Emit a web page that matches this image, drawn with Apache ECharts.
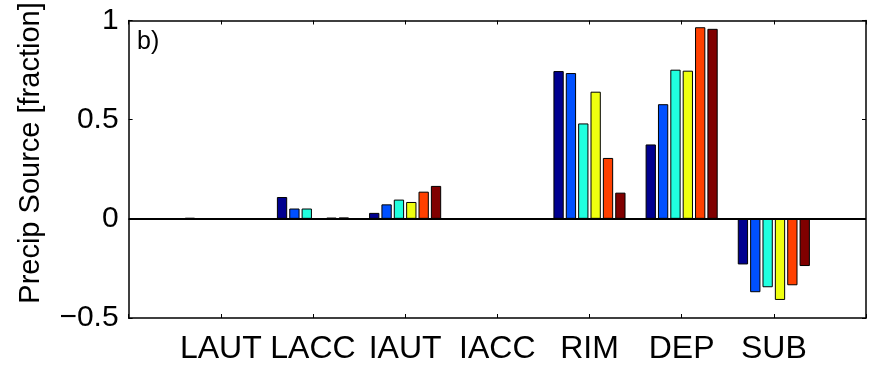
<!DOCTYPE html>
<html>
<head>
<meta charset="utf-8">
<script src="https://cdn.jsdelivr.net/npm/echarts@6/dist/echarts.min.js"></script>
<style>
  html, body { margin: 0; padding: 0; background: #fff; }
  #chart { width: 869px; height: 365px; }
</style>
</head>
<body>
<div id="chart"></div>
<script>
// Process categories, padded with an empty slot at each end so the axis runs 0..8
const categories = ['', 'LAUT', 'LACC', 'IAUT', 'IACC', 'RIM', 'DEP', 'SUB', ''];

// Precipitation source fractions, one array per run
const run1 = [null, 0.005, 0.110, 0.030, 0.000, 0.745, 0.375, -0.230, null];
const run2 = [null, 0.002, 0.052, 0.073, 0.000, 0.735, 0.578, -0.370, null];
const run3 = [null, 0.001, 0.052, 0.097, 0.000, 0.481, 0.752, -0.345, null];
const run4 = [null, 0.001, 0.000, 0.085, 0.000, 0.641, 0.747, -0.409, null];
const run5 = [null, 0.001, 0.006, 0.137, 0.002, 0.307, 0.966, -0.335, null];
const run6 = [null, 0.001, 0.007, 0.166, 0.002, 0.132, 0.958, -0.238, null];

const runColors = ['#00008f', '#0050ff', '#20ffdf', '#efff10', '#ff4000', '#800000'];
const yTicks = [-0.5, 0, 0.5, 1];
const yTitle = 'Precip Source [fraction]';
const panelTag = 'b)';

const runs = [run1, run2, run3, run4, run5, run6];
const font = 'Liberation Sans, Arial, Helvetica, sans-serif';

const series = runs.map((vals, i) => ({
  type: 'bar',
  data: vals,
  barWidth: 10.3,
  barGap: '20%',
  itemStyle: { color: runColors[i], borderColor: '#000', borderWidth: 1 },
  z: 2
}));
// Thick zero reference line across the plot
series[0].markLine = {
  silent: true,
  symbol: 'none',
  label: { show: false },
  lineStyle: { color: '#000', width: 2, type: 'solid' },
  data: [{ yAxis: 0 }],
  z: 5
};

const chart = echarts.init(document.getElementById('chart'), null, { renderer: 'canvas' });
chart.setOption({
  animation: false,
  backgroundColor: '#fff',
  grid: { left: 128.6, right: 1.5, top: 20.5, bottom: 46, containLabel: false },
  xAxis: [
    {
      type: 'category',
      data: categories,
      boundaryGap: false,
      position: 'bottom',
      axisLine: { onZero: false, lineStyle: { color: '#000', width: 1.5 } },
      axisTick: { inside: true, length: 4, lineStyle: { color: '#000', width: 1 } },
      axisLabel: { color: '#000', fontSize: 32, fontFamily: font, margin: 15, interval: 0 },
      splitLine: { show: false }
    },
    {
      type: 'category',
      data: categories,
      boundaryGap: false,
      position: 'top',
      axisLine: { onZero: false, lineStyle: { color: '#000', width: 1.5 } },
      axisTick: { inside: true, length: 4, lineStyle: { color: '#000', width: 1 } },
      axisLabel: { show: false },
      splitLine: { show: false }
    }
  ],
  yAxis: [
    {
      type: 'value',
      min: yTicks[0],
      max: yTicks[yTicks.length - 1],
      interval: 0.5,
      position: 'left',
      axisLine: { show: true, lineStyle: { color: '#000', width: 1.5 } },
      axisTick: { show: true, inside: true, length: 4, lineStyle: { color: '#000', width: 1 } },
      axisLabel: {
        color: '#000', fontSize: 30, fontFamily: font, margin: 10,
        formatter: v => (v < 0 ? '\u2212' + Math.abs(v) : String(v))
      },
      splitLine: { show: false }
    },
    {
      type: 'value',
      min: yTicks[0],
      max: yTicks[yTicks.length - 1],
      interval: 0.5,
      position: 'right',
      axisLine: { show: true, lineStyle: { color: '#000', width: 1.5 } },
      axisTick: { show: true, inside: true, length: 4, lineStyle: { color: '#000', width: 1 } },
      axisLabel: { show: false },
      splitLine: { show: false }
    }
  ],
  graphic: [
    {
      type: 'text',
      x: 31,
      y: 153,
      rotation: Math.PI / 2,
      style: {
        text: yTitle, fill: '#000', font: '29px ' + font,
        align: 'center', verticalAlign: 'middle'
      }
    },
    {
      type: 'text',
      left: 137,
      top: 30,
      style: { text: panelTag, fill: '#000', font: '25px ' + font }
    }
  ],
  series: series
});
</script>
</body>
</html>
